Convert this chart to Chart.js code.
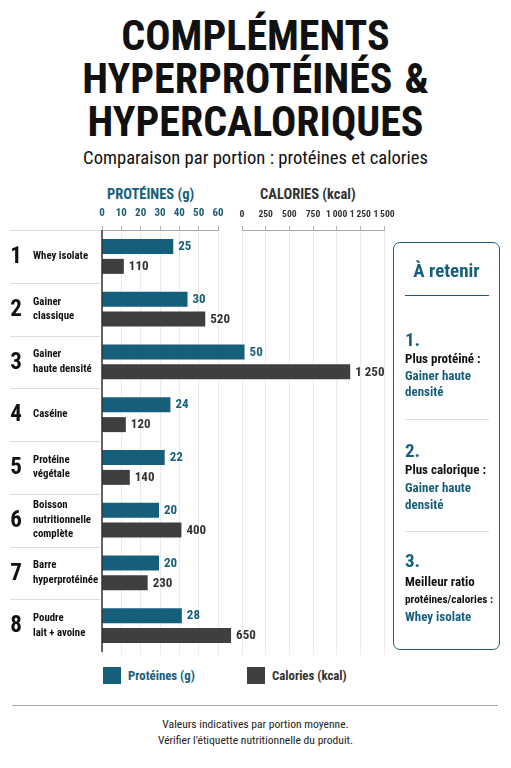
<!DOCTYPE html>
<html lang="fr">
<head>
<meta charset="utf-8">
<title>Compléments hyperprotéinés & hypercaloriques</title>
<script src="https://cdn.jsdelivr.net/npm/chart.js@4.4.1/dist/chart.umd.min.js"></script>
<style>
  html, body { margin: 0; padding: 0; background: #fff; }
  body { width: 511px; height: 768px; position: relative; overflow: hidden;
         font-family: "Liberation Sans Narrow", "Roboto Condensed", "DejaVu Sans Condensed", sans-serif; color: #111; }
  .abs { position: absolute; white-space: nowrap; }
  #title { left: 0; width: 511px; top: 14px; text-align: center; font-weight: bold;
           font-size: 42px; line-height: 43px; color: #111; }
  #title .amp { letter-spacing: 0; padding-left: 12px; }
  #subtitle { left: 0; width: 511px; top: 147px; text-align: center; font-size: 18.6px; color: #111; }
  .head { top: 186px; font-weight: bold; font-size: 14.5px; }
  canvas { position: absolute; }
  #panel { left: 393px; top: 242px; width: 105px; height: 406px; border: 1.5px solid #1f5d73; border-radius: 7px; }
  .p-title { color: #165f7b; font-weight: bold; font-size: 19px; }
  .p-num { color: #165f7b; font-weight: bold; font-size: 19px; }
  .p-lbl { color: #111; font-weight: bold; font-size: 13px; }
  .p-val { color: #165f7b; font-weight: bold; font-size: 13px; }
  .sw { width: 18px; height: 17px; }
  .leg { font-weight: bold; font-size: 12.8px; top: 668px; }
  #rule { left: 12px; top: 705px; width: 486px; height: 1px; background: #aaa; }
  .foot { left: 0; width: 511px; text-align: center; font-size: 11.6px; color: #222; }
</style>
</head>
<body>
<div id="title" class="abs">COMPLÉMENTS<br>HYPERPROTÉINÉS<span class="amp">&amp;</span><br>HYPERCALORIQUES</div>
<div id="subtitle" class="abs">Comparaison par portion : protéines et calories</div>
<div class="abs head" style="left:107px;color:#165f7b;">PROTÉINES (g)</div>
<div class="abs head" style="left:260px;color:#333;">CALORIES (kcal)</div>

<canvas id="axisP"></canvas>
<canvas id="axisC"></canvas>
<canvas id="main"></canvas>

<div id="panel" class="abs"></div>
<div class="abs p-title" style="left:393px;width:107px;text-align:center;top:259px;">À retenir</div>
<div class="abs" style="left:405px;top:295px;width:84px;height:1px;background:#1f5d73;"></div>
<div class="abs p-num" style="left:405px;top:328px;">1.</div>
<div class="abs p-lbl" style="left:405px;top:351px;">Plus protéiné :</div>
<div class="abs p-val" style="left:405px;top:368px;">Gainer haute</div>
<div class="abs p-val" style="left:405px;top:384px;">densité</div>
<div class="abs" style="left:405px;top:419px;width:84px;height:1px;background:#ddd;"></div>
<div class="abs p-num" style="left:405px;top:439px;">2.</div>
<div class="abs p-lbl" style="left:405px;top:462px;">Plus calorique :</div>
<div class="abs p-val" style="left:405px;top:480px;">Gainer haute</div>
<div class="abs p-val" style="left:405px;top:497px;">densité</div>
<div class="abs" style="left:405px;top:531px;width:84px;height:1px;background:#ddd;"></div>
<div class="abs p-num" style="left:405px;top:549px;">3.</div>
<div class="abs p-lbl" style="left:405px;top:574px;">Meilleur ratio</div>
<div class="abs p-lbl" style="left:405px;top:593px;font-size:11.3px;">protéines/calories :</div>
<div class="abs p-val" style="left:405px;top:609px;">Whey isolate</div>

<div class="abs sw" style="left:103px;top:667px;background:#165f7b;"></div>
<div class="abs leg" style="left:128px;color:#165f7b;">Protéines (g)</div>
<div class="abs sw" style="left:247px;top:667px;background:#3f3f3f;"></div>
<div class="abs leg" style="left:272px;color:#333;">Calories (kcal)</div>

<div id="rule" class="abs"></div>
<div class="abs foot" style="top:717px;">Valeurs indicatives par portion moyenne.</div>
<div class="abs foot" style="top:733px;">Vérifier l'étiquette nutritionnelle du produit.</div>

<script>
const categories = [
  ["Whey isolate"],
  ["Gainer", "classique"],
  ["Gainer", "haute densité"],
  ["Caséine"],
  ["Protéine", "végétale"],
  ["Boisson", "nutritionnelle", "complète"],
  ["Barre", "hyperprotéinée"],
  ["Poudre", "lait + avoine"]
];
const rankNumbers = ["1", "2", "3", "4", "5", "6", "7", "8"];
const proteinValues = [25, 30, 50, 24, 22, 20, 20, 28];
const calorieValues = [110, 520, 1250, 120, 140, 400, 230, 650];
const proteinTicks = [0, 10, 20, 30, 40, 50, 60];
const calorieTicks = [0, 250, 500, 750, 1000, 1250, 1500];

const TEAL = "#165f7b";
const DARK = "#3f3f3f";
const FONT = '"Liberation Sans Narrow", "Roboto Condensed", "DejaVu Sans Condensed", sans-serif';

function frNumber(v, sep) {
  return String(v).replace(/\B(?=(\d{3})+(?!\d))/g, sep || " ");
}

function place(id, left, top, width, height) {
  const c = document.getElementById(id);
  c.style.left = left + "px";
  c.style.top = top + "px";
  c.style.width = width + "px";
  c.style.height = height + "px";
  c.width = width;
  c.height = height;
  return c;
}

// header axes, their grid lines run down behind the bars
function axisChart(id, left, width, ticks, color, size) {
  const c = place(id, left - 16, 200, width + 36, 455);
  return new Chart(c, {
    type: "scatter",
    data: { datasets: [{ data: [] }] },
    options: {
      responsive: false,
      animation: false,
      layout: { padding: { left: 16, right: 20, top: 0, bottom: 0 } },
      plugins: { legend: { display: false }, tooltip: { enabled: false } },
      scales: {
        x: {
          type: "linear",
          position: "top",
          min: ticks[0],
          max: ticks[ticks.length - 1],
          afterBuildTicks: (s) => { s.ticks = ticks.map((v) => ({ value: v })); },
          afterFit: (s) => { s.height = 30; },
          ticks: {
            color: color,
            padding: 6,
            autoSkip: false,
            maxRotation: 0,
            font: { family: FONT, size: size, weight: "bold" },
            callback: (v) => frNumber(v, "\u2009")
          },
          grid: { color: "#ebebeb", tickColor: "#b5b5b5", tickLength: 4, lineWidth: 1 },
          border: { color: "#aaaaaa", width: 1 }
        },
        y: { display: false, min: 0, max: 1 }
      }
    }
  });
}

axisChart("axisP", 102, 116, proteinTicks, "#1d5c74", 11);
axisChart("axisC", 242, 142, calorieTicks, "#333", 9.6);

const rowsPlugin = {
  id: "rows",
  afterDraw(chart) {
    const { ctx, chartArea, scales } = chart;
    const y = scales.y;
    const step = y.getPixelForValue(1) - y.getPixelForValue(0);
    ctx.save();
    // row separators in the label column
    ctx.strokeStyle = "#dcdcdc";
    ctx.lineWidth = 1;
    for (let i = 0; i < categories.length; i++) {
      const top = Math.round(y.getPixelForValue(i) - step / 2) + 0.5;
      ctx.beginPath();
      ctx.moveTo(10, top);
      ctx.lineTo(100, top);
      ctx.stroke();
    }
    // vertical axis line
    ctx.strokeStyle = "#333";
    ctx.lineWidth = 1.5;
    ctx.beginPath();
    ctx.moveTo(chartArea.left, chartArea.top);
    ctx.lineTo(chartArea.left, chartArea.bottom + 3);
    ctx.stroke();
    // rank numbers and names
    ctx.textBaseline = "middle";
    categories.forEach((lines, i) => {
      const cy = y.getPixelForValue(i);
      ctx.fillStyle = "#111";
      ctx.textAlign = "center";
      ctx.font = "bold 23px " + FONT;
      ctx.fillText(rankNumbers[i], 16, cy + 1);
      ctx.textAlign = "left";
      ctx.font = "bold 10.8px " + FONT;
      const lh = 14.5;
      lines.forEach((t, k) => {
        ctx.fillText(t, 33, cy + (k - (lines.length - 1) / 2) * lh);
      });
    });
    // value labels
    ctx.font = "bold 13px " + FONT;
    chart.data.datasets.forEach((ds, di) => {
      const meta = chart.getDatasetMeta(di);
      ctx.fillStyle = di === 0 ? TEAL : "#333";
      meta.data.forEach((bar, i) => {
        ctx.fillText(frNumber(ds.data[i]), bar.x + 5, bar.y + 0.5);
      });
    });
    ctx.restore();
  }
};

const mainCanvas = place("main", 0, 230, 511, 422);
new Chart(mainCanvas, {
  type: "bar",
  data: {
    labels: categories,
    datasets: [
      { label: "Protéines (g)", data: proteinValues, backgroundColor: TEAL, xAxisID: "xp",
        categoryPercentage: 0.758, barPercentage: 0.75 },
      { label: "Calories (kcal)", data: calorieValues, backgroundColor: DARK, xAxisID: "xc",
        categoryPercentage: 0.758, barPercentage: 0.75 }
    ]
  },
  options: {
    indexAxis: "y",
    responsive: false,
    animation: false,
    layout: { padding: { left: 102, right: 131, top: 0, bottom: 0 } },
    plugins: { legend: { display: false }, tooltip: { enabled: false } },
    scales: {
      xp: { type: "linear", display: false, min: 0, max: 97.5 },
      xc: { type: "linear", display: false, min: 0, max: 1400 },
      y: { display: false }
    }
  },
  plugins: [rowsPlugin]
});
</script>
</body>
</html>
